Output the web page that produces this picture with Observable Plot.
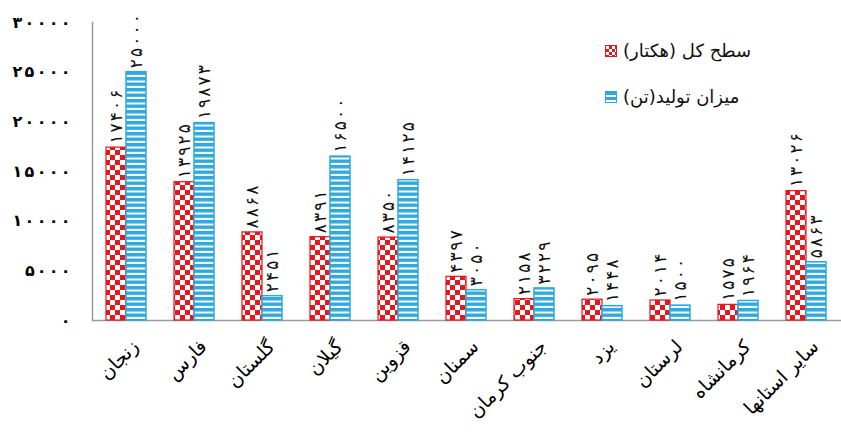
<!DOCTYPE html>
<html>
<head>
<meta charset="utf-8">
<script src="https://cdn.jsdelivr.net/npm/d3@7"></script>
<script src="https://cdn.jsdelivr.net/npm/@observablehq/plot@0.6"></script>
<style>
  body { margin: 0; background: #fff; }
  #wrap { position: relative; width: 841px; height: 432px; font-family: "DejaVu Sans", sans-serif; }
  .legend { position: absolute; left: 605px; font-size: 18px; color: #111; display: flex; align-items: center; direction: rtl; }
  .legend .sw { width: 12px; height: 12px; margin-right: 6px; box-sizing: border-box; }
</style>
</head>
<body>
<svg width="0" height="0" style="position:absolute">
  <defs>
    <pattern id="checker" patternUnits="userSpaceOnUse" width="10" height="10">
      <rect width="10" height="10" fill="#e5161c"></rect>
      <rect width="5" height="5" fill="#ffffff"></rect>
      <rect x="5" y="5" width="5" height="5" fill="#ffffff"></rect>
    </pattern>
    <pattern id="stripes" patternUnits="userSpaceOnUse" width="10" height="5.5">
      <rect width="10" height="5.5" fill="#ffffff"></rect>
      <rect width="10" height="3.5" fill="#2fa9dc"></rect>
    </pattern>
  </defs>
</svg>
<div id="wrap"></div>
<script>
const provinces = ["زنجان","فارس","گلستان","گیلان","قزوین","سمنان","جنوب کرمان","یزد","لرستان","کرمانشاه","سایر استانها"];
const area = [17406, 13925, 8868, 8391, 8350, 4397, 2158, 2095, 2014, 1575, 13026];
const production = [25000, 19873, 2451, 16500, 14125, 3050, 3229, 1448, 1500, 1964, 5863];
const yTicks = [0, 5000, 10000, 15000, 20000, 25000, 30000];
const seriesNames = ["سطح کل (هکتار)", "میزان تولید(تن)"];

const RED = "#e5161c", BLUE = "#2fa9dc";
const fa = v => String(v).replace(/\d/g, d => "۰۱۲۳۴۵۶۷۸۹"[d]);

const rows = provinces.map((p, i) => ({p, area: area[i], production: production[i]}));

const W = 841, H = 432, ML = 92, MR = 0, MT = 22, MB = 112;
const PI = 0.41, PO = 0.2;
const bw = d3.scaleBand().domain(provinces).range([ML, W - MR]).paddingInner(PI).paddingOuter(PO).round(true).bandwidth();

const chart = Plot.plot({
  width: W, height: H,
  marginLeft: ML, marginRight: MR, marginTop: MT, marginBottom: MB,
  style: {fontFamily: "DejaVu Sans, sans-serif", background: "#fff"},
  x: {domain: provinces, paddingInner: PI, paddingOuter: PO, round: true, label: null},
  y: {domain: [0, 30000], label: null},
  marks: [
    Plot.ruleY([0], {stroke: "#9a9a9a", strokeWidth: 1.5}),
    Plot.frame({anchor: "left", stroke: "#9a9a9a", strokeWidth: 1.5}),
    Plot.axisY({ticks: yTicks, tickFormat: fa, tickSize: 0, tickPadding: 22, fontSize: 16, fontWeight: "bold", label: null}),
    Plot.axisX({tickSize: 0, tickRotate: -45, tickPadding: 8, fontSize: 19, dx: 9, dy: 15, label: null}),
    Plot.barY(rows, {x: "p", y: "area", fill: "url(#checker)", stroke: RED, strokeWidth: 1.2, insetRight: bw / 2}),
    Plot.barY(rows, {x: "p", y: "production", fill: "url(#stripes)", stroke: BLUE, strokeWidth: 1.5, insetLeft: bw / 2}),
    Plot.text(rows, {x: "p", y: "area", text: d => fa(d.area), rotate: -90, textAnchor: "start", lineAnchor: "middle", dx: -bw / 4, dy: -4, fontSize: 17, fill: "#111"}),
    Plot.text(rows, {x: "p", y: "production", text: d => fa(d.production), rotate: -90, textAnchor: "start", lineAnchor: "middle", dx: bw / 4, dy: -4, fontSize: 17, fill: "#111"})
  ]
});
const wrap = document.getElementById("wrap");
wrap.appendChild(chart);

// widen digit spacing like the reference (letter-spacing is ignored for Arabic-script digits)
d3.select(chart).selectAll('g[aria-label="y-axis tick label"] text')
  .attr("textLength", function () { return this.textContent.length * 12.4 - 4; })
  .attr("lengthAdjust", "spacing");
d3.select(chart).selectAll('g[aria-label="text"] text')
  .attr("textLength", function () { return this.textContent.length * 11.2 - 2; })
  .attr("lengthAdjust", "spacing");

const legendDefs = [
  {name: seriesNames[0], top: 40, bg: `repeating-conic-gradient(${RED} 0 25%, #fff 0 50%) 0 0/6px 6px`, border: RED},
  {name: seriesNames[1], top: 86, bg: `repeating-linear-gradient(${BLUE} 0 3px, #fff 3px 5px)`, border: BLUE}
];
legendDefs.forEach(l => {
  const div = document.createElement("div");
  div.className = "legend";
  div.style.top = l.top + "px";
  const t = document.createElement("span");
  t.textContent = l.name;
  const sw = document.createElement("span");
  sw.className = "sw";
  sw.style.background = l.bg;
  sw.style.border = "1.5px solid " + l.border;
  div.appendChild(t);
  div.appendChild(sw);
  wrap.appendChild(div);
});
</script>
</body>
</html>
